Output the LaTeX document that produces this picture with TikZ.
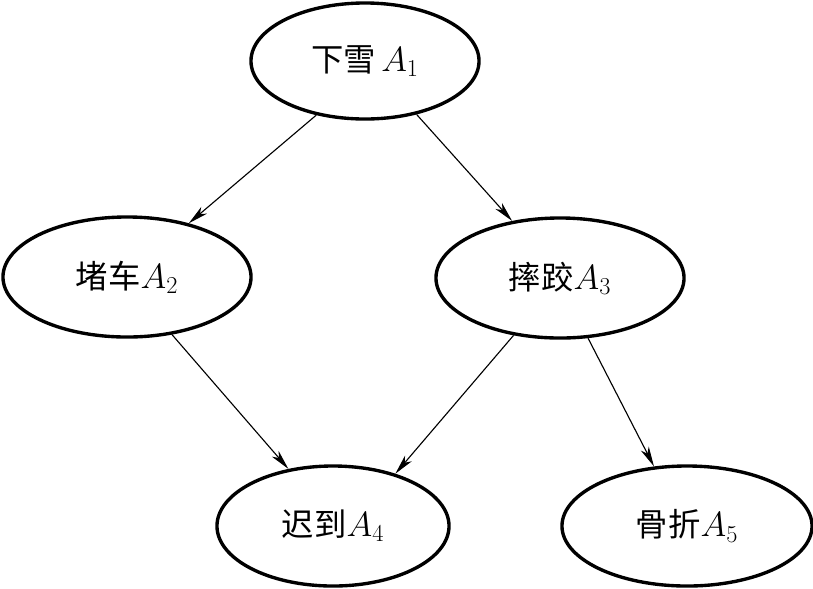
\documentclass[tikz,border=0pt]{standalone}
\usepackage{fontspec}
\newfontfamily\cjk{Noto Sans CJK SC}
\usetikzlibrary{shapes.geometric,arrows.meta}

\begin{document}
\begin{tikzpicture}[x=0.025cm,y=-0.025cm,
  >={Stealth[length=0.5cm,width=0.22cm,inset=0.14cm]},
  event/.style={draw,ellipse,line width=2.4pt,inner sep=0pt,
    minimum width=6.1cm,minimum height=3cm,font=\fontsize{23}{26}\selectfont},
  link/.style={->,line width=0.8pt}]
  \useasboundingbox (0,0) rectangle (813,588);
  % events
  \node[event,minimum width=5.7cm,minimum height=2.9cm] (a1) at (365,61) {\cjk 下雪\,$A_1$};
  \node[event,minimum width=6.2cm] (a2) at (127,277) {\cjk 堵车$A_2$};
  \node[event,minimum width=6.2cm] (a3) at (560,278) {\cjk 摔跤$A_3$};
  \node[event,minimum width=5.8cm] (a4) at (333,526) {\cjk 迟到$A_4$};
  \node[event,minimum width=6.25cm] (a5) at (687,526) {\cjk 骨折$A_5$};
  % causes
  \draw[link] (a1.228) -- (a2.41);
  \draw[link] (a1.314) -- (a3.130);
  \draw[link] (a2.308) -- (a4.128);
  \draw[link] (a3.231) -- (a4.40);
  \draw[link] (a3.295) -- (a5.119);
\end{tikzpicture}
\end{document}
